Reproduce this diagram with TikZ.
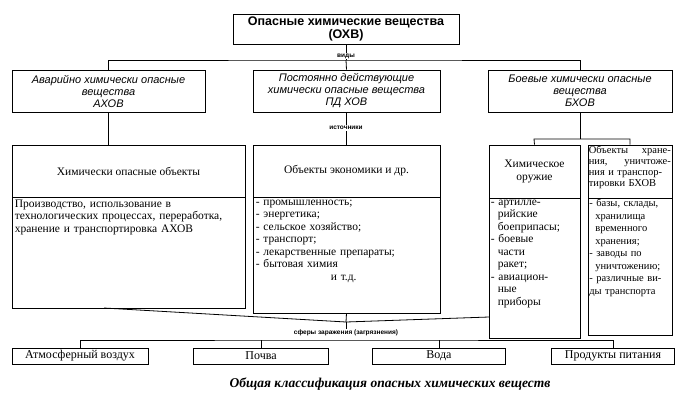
\documentclass[tikz,border=0pt]{standalone}
\usepackage{fontspec}
\setmainfont{Liberation Serif}
\newfontfamily\hdfont{Liberation Sans}
\usetikzlibrary{positioning}
\tikzset{
  box/.style={draw, thick, inner sep=0pt},
  txt/.style={inner sep=3pt, font=\fontsize{11.5}{12.5}\selectfont},
  small/.style={inner sep=1pt, fill=white, font=\hdfont\bfseries\fontsize{6.5}{7}\selectfont},
}
\newcommand{\cellbox}[5]{\node[box, minimum width=#4 pt, minimum height=#5 pt] (#1) at (#2,#3) {};}

\begin{document}
\begin{tikzpicture}[x=1pt,y=-1pt]
\useasboundingbox (0,0) rectangle (696,405);
% top
\node[box, minimum width=226pt, minimum height=30pt, align=center,
  font=\hdfont\bfseries\fontsize{12.5}{13}\selectfont] (ohv) at (346,29)
  {Опасные химические вещества\\(ОХВ)};

% row 1
\tikzset{kind/.style={box, minimum height=42pt, align=center, font=\hdfont\itshape\fontsize{11}{12}\selectfont}}
\node[kind, minimum width=193pt] (ahov) at (108.5,91) {Аварийно химически опасные\\вещества\\АХОВ};
\node[kind, minimum width=187pt] (pdhov) at (346.5,91) {Постоянно действующие\\химически опасные вещества\\ПД ХОВ};
\node[kind, minimum width=184pt] (bhov) at (580,91) {Боевые химически опасные\\вещества\\БХОВ};

\coordinate (v1) at (346,60);
\draw[thick] (ohv) -- (v1);
\draw[thick] (ahov.north) |- (v1) -| (bhov.north);
\draw[thick] (v1) -- (pdhov.north);
\node[small] (vidy) at (346,56) {виды};

% row 2
\cellbox{hoo}{128.5}{171}{233}{52}
\cellbox{hoob}{128.5}{252.5}{233}{111}
\cellbox{oe}{346.5}{171}{187}{52}
\cellbox{oeb}{346.5}{255}{187}{116}
\cellbox{ho}{534.5}{171.5}{91}{53}
\cellbox{hob}{534.5}{268}{91}{140}
\cellbox{ou}{630}{171.5}{84}{53}
\cellbox{oub}{630}{266.5}{84}{137}

\node[txt] (hoot) at (hoo) {Химически опасные объекты};
\node[txt, anchor=north west, text width=226pt, align=left] (hoobt) at (hoob.north west)
  {Производство, использование в технологических процессах, переработка, хранение и транспортировка АХОВ};
\node[txt] (oet) at (oe) {Объекты экономики и др.};
\node[txt, anchor=north west, text width=180pt, align=left] (oebt) at (oeb.north west)
  {- промышленность;\\- энергетика;\\- сельское хозяйство;\\- транспорт;\\- лекарственные препараты;\\- бытовая химия\\\hspace*{75pt}и т.д.};
\node[txt, align=center] (hot) at (ho) {Химическое\\оружие};
\node[txt, anchor=north west, text width=86pt, align=left, inner sep=2pt] (hobt) at (hob.north west)
  {- артилле-\\\hspace*{7pt}рийские\\\hspace*{7pt}боеприпасы;\\- боевые\\\hspace*{7pt}части\\\hspace*{7pt}ракет;\\- авиацион-\\\hspace*{7pt}ные\\\hspace*{7pt}приборы};
\node[txt, anchor=north west, text width=82pt, align=left, inner sep=1pt, font=\fontsize{10.5}{11}\selectfont] (out) at (ou.north west)
  {Объекты\hfill хране-\\ния,\hfill уничтоже-\\ния и транспор-\\тировки БХОВ};
\node[txt, anchor=north west, text width=82pt, align=left, inner sep=1.5pt, font=\fontsize{10.5}{12.5}\selectfont] (oubt) at (oub.north west)
  {- базы, склады,\\\hspace*{6pt}хранилища\\\hspace*{6pt}временного\\\hspace*{6pt}хранения;\\- заводы по\\\hspace*{6pt}уничтожению;\\- различные ви-\\ды транспорта};

\draw[thick] (ahov.south) -- (ahov.south |- hoo.north);
\draw[thick] (pdhov) -- (oe);
\node[small] (ist) at (346,128) {источники};
\coordinate (r1) at (534,139);
\coordinate (r2) at (630,139);
\draw[thick] (bhov.south) -- (580,139);
\draw[thick] (ho.north) -- (r1) -- (r2) -- (ou.north);

% bottom
\coordinate (m) at (346,322);
\coordinate (rb) at (489,317);
\draw[thick] (104,308) -- (m);
\draw[thick] (oeb.south) -- (m);
\draw[thick] (rb) -- (m);
\draw[thick] (m) -- (346,330);
\node[small] (sf) at (346,333) {сферы заражения (загрязнения)};

\tikzset{sph/.style={box, minimum height=16pt, font=\fontsize{12}{13}\selectfont}}
\node[sph, minimum width=136pt] (air) at (80,356) {Атмосферный воздух};
\node[sph, minimum width=135pt] (soil) at (261,356) {Почва};
\node[sph, minimum width=133pt] (water) at (439,356) {Вода};
\node[sph, minimum width=123pt] (food) at (613,356) {Продукты питания};
\coordinate (h) at (346,340);
\draw[thick] (air.north) |- (h) -| (food.north);
\draw[thick] (soil.north) -- (soil.north |- h);
\draw[thick] (water.north) -- (water.north |- h);

\node[font=\bfseries\itshape\fontsize{13.5}{14}\selectfont] (cap) at (390,384)
  {Общая классификация опасных химических веществ};
\end{tikzpicture}
\end{document}
